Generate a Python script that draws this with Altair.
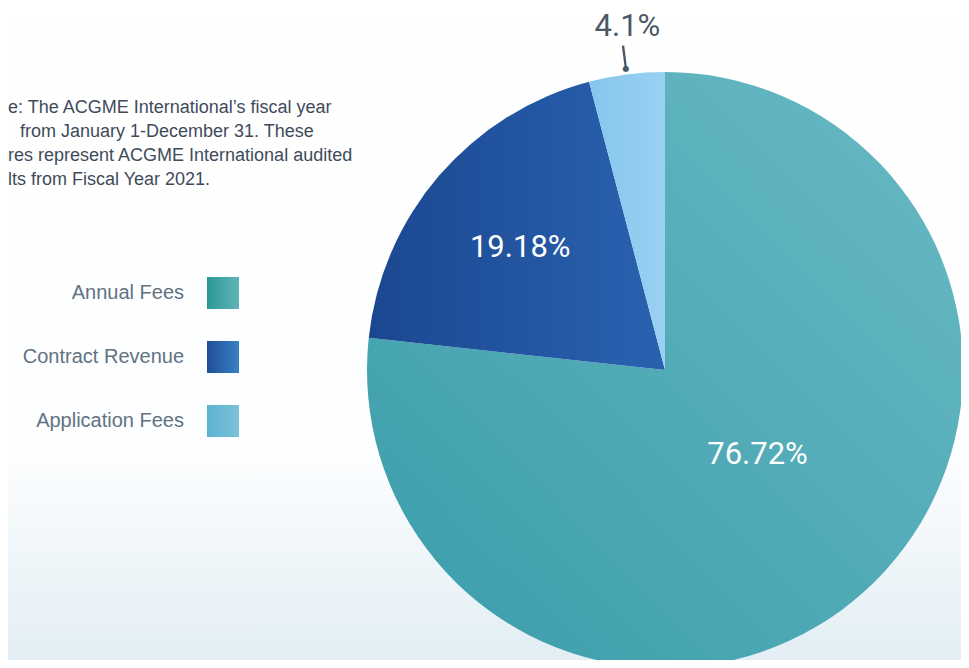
import math
import altair as alt
import pandas as pd

# ---- data ----
categories = ["Annual Fees", "Contract Revenue", "Application Fees"]
shares = [76.72, 19.18, 4.1]
share_labels = ["76.72%", "19.18%", "4.1%"]
note_lines = [
    "e: The ACGME International\u2019s fiscal year",
    "from January 1-December 31. These",
    "res represent ACGME International audited",
    "lts from Fiscal Year 2021.",
]

df = pd.DataFrame({"category": categories, "share": shares,
                   "label": share_labels, "order": list(range(len(categories)))})
notes = pd.DataFrame({"line": note_lines, "i": list(range(len(note_lines)))})

W, H = 953, 652
CX, CY, R = 657, 362, 298
COND = "Roboto, Liberation Sans, sans-serif"
SANS = "Liberation Sans, Arial, Helvetica, sans-serif"

def grad(c1, c2, x1=0, y1=0, x2=1, y2=0):
    return alt.Gradient(gradient="linear", x1=x1, y1=y1, x2=x2, y2=y2,
                        stops=[alt.GradientStop(color=c1, offset=0),
                               alt.GradientStop(color=c2, offset=1)])

slice_fill = {
    "Annual Fees": grad("#3a9caa", "#69bac4", 0, 1, 1, 0),
    "Contract Revenue": grad("#1b4790", "#2a62b0", 0, 0.5, 1, 0.5),
    "Application Fees": grad("#86c6ec", "#99d1f2", 0, 0, 1, 0),
}
legend_fill = {
    "Annual Fees": grad("#2a9896", "#62b4b9"),
    "Contract Revenue": grad("#1f4f98", "#3a80c6"),
    "Application Fees": grad("#5db2d2", "#7cc1d9"),
}
# radius, colour, dx, dy
label_style = {
    "Annual Fees": (125, "#ffffff", 9, -8),
    "Contract Revenue": (191, "#ffffff", 0, 3),
    "Application Fees": (347, "#4a5868", 7, 1),
}

theta_scale = alt.Scale(domain=[0, 100], range=[0, 2 * math.pi])

base = (alt.Chart(df)
        .transform_window(end="sum(share)", sort=[alt.SortField("order")])
        .transform_calculate(start="datum.end - datum.share",
                             mid="(datum.end - datum.share/2)",
                             lo="datum.end - datum.share/2 - 0.06",
                             hi="datum.end - datum.share/2 + 0.06"))

layers = []

# background wash
bg = alt.Chart(pd.DataFrame({"a": [0]})).mark_rect(
    fill=alt.Gradient(gradient="linear", x1=0, y1=0, x2=0, y2=1,
                      stops=[alt.GradientStop(color="#ffffff", offset=0),
                             alt.GradientStop(color="#fdfeff", offset=0.68),
                             alt.GradientStop(color="#e2eef4", offset=1)])
).encode(x=alt.value(0), x2=alt.value(W), y=alt.value(0), y2=alt.value(H))
layers.append(bg)

# slices
for cat in categories:
    layers.append(
        base.transform_filter(alt.datum.category == cat)
        .mark_arc(radius=R, fill=slice_fill[cat])
        .encode(theta=alt.Theta("start:Q", scale=theta_scale),
                theta2=alt.Theta2("end:Q"),
                x=alt.value(CX), y=alt.value(CY))
    )

# slice labels
for cat in categories:
    r, col, dx, dy = label_style[cat]
    layers.append(
        base.transform_filter(alt.datum.category == cat)
        .mark_text(radius=r, font=COND, fontSize=31, color=col, dx=dx, dy=dy,
                   align="center", baseline="middle")
        .encode(theta=alt.Theta("mid:Q", scale=theta_scale),
                text="label:N", x=alt.value(CX), y=alt.value(CY))
    )

# leader line + dot for the small slice
small = base.transform_filter(alt.datum.category == "Application Fees")
layers.append(
    small.mark_arc(radius=327, radius2=305, fill="#4a5868")
    .encode(theta=alt.Theta("lo:Q", scale=theta_scale), theta2=alt.Theta2("hi:Q"),
            x=alt.value(CX), y=alt.value(CY))
)
layers.append(
    small.mark_text(radius=304, text="\u25cf", fontSize=8, color="#4a5868",
                    align="center", baseline="middle", font="DejaVu Sans")
    .encode(theta=alt.Theta("mid:Q", scale=theta_scale),
            x=alt.value(CX), y=alt.value(CY))
)

# note text (second line is indented, as in the cropped original)
layers.append(
    alt.Chart(notes)
    .transform_calculate(yy="105 + datum.i * 24", xx="datum.i == 1 ? 12 : 0")
    .mark_text(align="left", baseline="alphabetic", font=SANS, fontSize=18,
               color="#3e4b5b")
    .encode(x=alt.X("xx:Q", scale=None), y=alt.Y("yy:Q", scale=None), text="line:N")
)

# legend
leg = alt.Chart(df).transform_calculate(yy="285 + datum.order * 64")
for cat in categories:
    layers.append(
        leg.transform_filter(alt.datum.category == cat)
        .mark_square(size=1024, fill=legend_fill[cat], opacity=1, strokeWidth=0)
        .encode(x=alt.value(215), y=alt.Y("yy:Q", scale=None))
    )
layers.append(
    leg.mark_text(align="right", baseline="middle", font=SANS, fontSize=20,
                  color="#617282")
    .encode(x=alt.value(176), y=alt.Y("yy:Q", scale=None), text="category:N")
)

chart = (alt.layer(*layers)
         .properties(width=W, height=H, padding=0, autosize="none")
         .configure_view(stroke=None)
         .configure(background="#ffffff"))

chart.save("out.html", embed_options={"renderer": "svg", "actions": False})
